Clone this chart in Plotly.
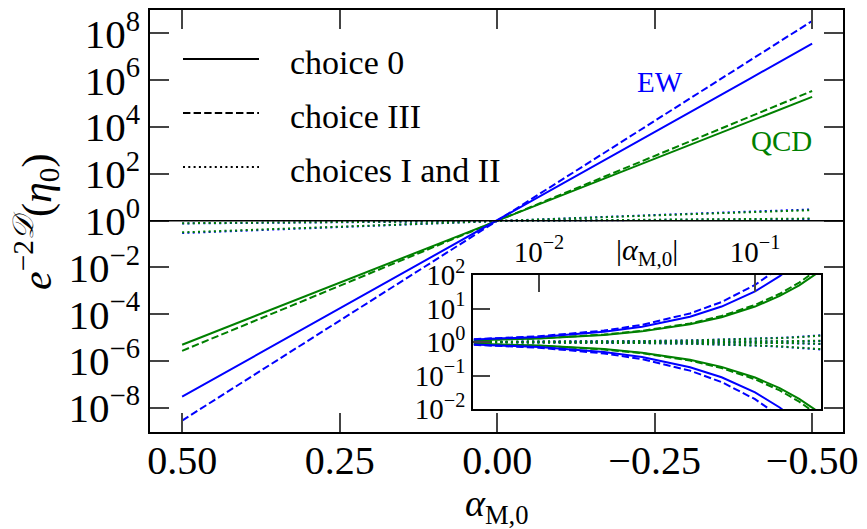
import plotly.graph_objects as go

# ---------------- data ----------------
abs_alpha = [0.005, 0.01, 0.02, 0.03, 0.05, 0.07, 0.1, 0.13, 0.16, 0.2, 0.25, 0.3, 0.4, 0.5]

# values of e^{-2D}(eta_0) for alpha_M,0 = -|alpha| ("grow") and alpha_M,0 = +|alpha| ("decay")
ew_c0_grow = [1.190, 1.417, 2.007, 2.843, 5.70, 11.43, 32.5, 92.5, 262.0, 1057.0, 6026.0, 3.44e4, 1.12e6, 3.63e7]
ew_c0_decay = [0.841, 0.707, 0.500, 0.354, 0.177, 0.0885, 0.0313, 0.0111, 3.93e-3, 9.82e-4, 1.74e-4, 3.08e-5, 9.64e-7, 3.02e-8]
ew_c3_grow = [1.217, 1.481, 2.194, 3.249, 7.13, 15.63, 50.8, 165.2, 537.0, 2582.0, 1.84e4, 1.31e5, 6.67e6, 3.39e8]
ew_c3_decay = [0.822, 0.675, 0.456, 0.307, 0.140, 0.0637, 0.0196, 6.03e-3, 1.85e-3, 3.84e-4, 5.37e-5, 7.52e-6, 1.47e-7, 2.88e-9]
qcd_c0_grow = [1.130, 1.276, 1.628, 2.077, 3.381, 5.504, 11.43, 23.71, 49.3, 130.6, 441.6, 1493.0, 1.706e4, 1.95e5]
qcd_c0_decay = [0.885, 0.783, 0.614, 0.481, 0.295, 0.181, 0.0871, 0.0419, 0.0201, 7.59e-3, 2.24e-3, 6.61e-4, 5.75e-5, 5.01e-6]
qcd_c3_grow = [1.136, 1.291, 1.666, 2.150, 3.581, 5.965, 12.82, 27.54, 59.3, 164.4, 588.8, 2109.0, 2.704e4, 3.47e5]
qcd_c3_decay = [0.880, 0.774, 0.599, 0.464, 0.278, 0.167, 0.0773, 0.0358, 0.0166, 5.97e-3, 1.66e-3, 4.61e-4, 3.56e-5, 2.75e-6]
ew_c1_grow = [1.011, 1.022, 1.045, 1.069, 1.117, 1.168, 1.247, 1.333, 1.424, 1.556, 1.738, 1.941, 2.421, 3.020]
ew_c1_decay = [0.988, 0.976, 0.952, 0.929, 0.885, 0.843, 0.783, 0.728, 0.677, 0.614, 0.543, 0.481, 0.377, 0.295]
qcd_c1_grow = [1.010, 1.021, 1.042, 1.064, 1.109, 1.156, 1.230, 1.309, 1.393, 1.514, 1.679, 1.862, 2.291, 2.818]
qcd_c1_decay = [0.989, 0.977, 0.955, 0.933, 0.891, 0.851, 0.794, 0.741, 0.692, 0.631, 0.562, 0.501, 0.398, 0.316]
ew_c2_grow = [1.002, 1.003, 1.007, 1.010, 1.016, 1.023, 1.033, 1.043, 1.053, 1.067, 1.084, 1.102, 1.138, 1.175]
ew_c2_decay = [0.997, 0.995, 0.989, 0.984, 0.973, 0.962, 0.946, 0.931, 0.915, 0.895, 0.871, 0.847, 0.802, 0.759]
qcd_c2_grow = [1.002, 1.004, 1.008, 1.013, 1.021, 1.029, 1.042, 1.055, 1.069, 1.086, 1.109, 1.132, 1.180, 1.230]
qcd_c2_decay = [0.998, 0.995, 0.990, 0.985, 0.975, 0.965, 0.951, 0.936, 0.922, 0.904, 0.881, 0.859, 0.817, 0.776]

main_xticks = [0.5, 0.25, 0.0, -0.25, -0.5]
main_xticktext = ["0.50", "0.25", "0.00", "\u22120.25", "\u22120.50"]
main_yticks = [1e-8, 1e-6, 1e-4, 1e-2, 1e0, 1e2, 1e4, 1e6, 1e8]
main_yticktext = ["10<sup>\u22128</sup>", "10<sup>\u22126</sup>", "10<sup>\u22124</sup>", "10<sup>\u22122</sup>",
                  "10<sup>0</sup>", "10<sup>2</sup>", "10<sup>4</sup>", "10<sup>6</sup>", "10<sup>8</sup>"]
inset_xticks = [0.01, 0.1]
inset_xticktext = ["10<sup>\u22122</sup>", "10<sup>\u22121</sup>"]
inset_yticks = [1e-2, 1e-1, 1e0, 1e1, 1e2]
inset_yticktext = ["10<sup>\u22122</sup>", "10<sup>\u22121</sup>", "10<sup>0</sup>", "10<sup>1</sup>", "10<sup>2</sup>"]

legend_labels = ["choice 0", "choice III", "choices I and II"]

# ---------------- styles ----------------
BLUE = "#0000ff"
GREEN = "#008000"
FONT = "Liberation Serif"
DASH = "7.4px,3.2px"
DOT = "2px,3.3px"
LW = 2.0

series = [
    (ew_c2_grow, ew_c2_decay, BLUE, DOT),
    (qcd_c2_grow, qcd_c2_decay, GREEN, DOT),
    (ew_c1_grow, ew_c1_decay, BLUE, DOT),
    (qcd_c1_grow, qcd_c1_decay, GREEN, DOT),
    (qcd_c0_grow, qcd_c0_decay, GREEN, "solid"),
    (qcd_c3_grow, qcd_c3_decay, GREEN, DASH),
    (ew_c0_grow, ew_c0_decay, BLUE, "solid"),
    (ew_c3_grow, ew_c3_decay, BLUE, DASH),
]

fig = go.Figure()

for grow, decay, col, dash in series:
    x_main = [a for a in reversed(abs_alpha)] + [0.0] + [-a for a in abs_alpha]
    y_main = list(reversed(decay)) + [1.0] + list(grow)
    fig.add_trace(go.Scatter(x=x_main, y=y_main, mode="lines", xaxis="x", yaxis="y",
                             line=dict(color=col, width=LW, dash=dash), showlegend=False,
                             hoverinfo="skip"))

for grow, decay, col, dash in series:
    x_in = list(abs_alpha) + [None] + list(abs_alpha)
    y_in = list(grow) + [None] + list(decay)
    fig.add_trace(go.Scatter(x=x_in, y=y_in, mode="lines", xaxis="x2", yaxis="y2",
                             line=dict(color=col, width=LW, dash=dash), showlegend=False,
                             hoverinfo="skip", connectgaps=False))

# ---------------- geometry ----------------
L, R, T, B = 150, 24, 10, 97
W, H = 867, 529
PW, PH = W - L - R, H - T - B


def px(xp):
    return (xp - L) / PW


def py(yp):
    return (H - B - yp) / PH


axis_common = dict(showline=True, linecolor="black", linewidth=1.5, ticks="inside",
                   tickcolor="#444444", tickwidth=1.5, showgrid=False, zeroline=False)

fig.update_layout(
    template="none",
    width=W, height=H,
    margin=dict(l=L, r=R, t=T, b=B, pad=0),
    paper_bgcolor="white", plot_bgcolor="white",
    font=dict(family=FONT, color="black"),
    showlegend=False,
    xaxis=dict(axis_common, domain=[0, 1], range=[0.551, -0.549], tickvals=main_xticks,
               ticktext=main_xticktext, ticklen=19, mirror="ticks", ticklabelstandoff=-8,
               tickfont=dict(size=40, family=FONT), anchor="y"),
    yaxis=dict(axis_common, domain=[0, 1], type="log", range=[-9.03, 9.0], tickvals=main_yticks,
               ticktext=main_yticktext, ticklen=19, mirror="ticks",
               tickfont=dict(size=41, family=FONT), anchor="x"),
    xaxis2=dict(axis_common, domain=[px(473), px(821)], type="log", range=[-2.305, -0.695],
                tickvals=inset_xticks, ticktext=inset_xticktext, side="top", ticklen=17,
                mirror=True, tickfont=dict(size=29, family=FONT), anchor="y2"),
    yaxis2=dict(axis_common, domain=[py(409), py(275)], type="log", range=[-2, 2],
                tickvals=inset_yticks, ticktext=inset_yticktext, ticklen=17, mirror=True,
                tickfont=dict(size=29, family=FONT), anchor="x2"),
)

# horizontal reference line at unity
fig.add_shape(type="line", xref="x domain", yref="y", x0=0, x1=1, y0=1, y1=1,
              line=dict(color="black", width=1.5), layer="above")

# manual legend
legend_y = [59, 113, 167]
legend_dash = ["solid", DASH, DOT]
for lab, yy, dsh in zip(legend_labels, legend_y, legend_dash):
    fig.add_shape(type="line", xref="paper", yref="paper", x0=px(183), x1=px(259),
                  y0=py(yy), y1=py(yy), line=dict(color="black", width=LW, dash=dsh))
    fig.add_annotation(x=px(288), y=py(yy + 3), xref="paper", yref="paper", text=lab,
                       showarrow=False, xanchor="left", yanchor="middle",
                       font=dict(size=34, family=FONT, color="black"))


def label(xp, yp, text, size, color="black", angle=0):
    fig.add_annotation(x=px(xp), y=py(yp), xref="paper", yref="paper", text=text,
                       showarrow=False, xanchor="center", yanchor="middle", textangle=angle,
                       font=dict(size=size, family=FONT, color=color))


label(660, 82, "EW", 29, BLUE)
label(781, 141, "QCD", 29, GREEN)
label(647, 252, "|<i>\u03b1</i><sub>M,0</sub>|", 30)
label(497, 506, "<i>\u03b1</i><sub>M,0</sub>", 38)
label(36, 222, "<i>e</i><sup>\u22122<i>\U0001D49F</i></sup>(<i>\u03b7</i><sub>0</sub>)", 42, angle=-90)

fig.write_html("out.html")
